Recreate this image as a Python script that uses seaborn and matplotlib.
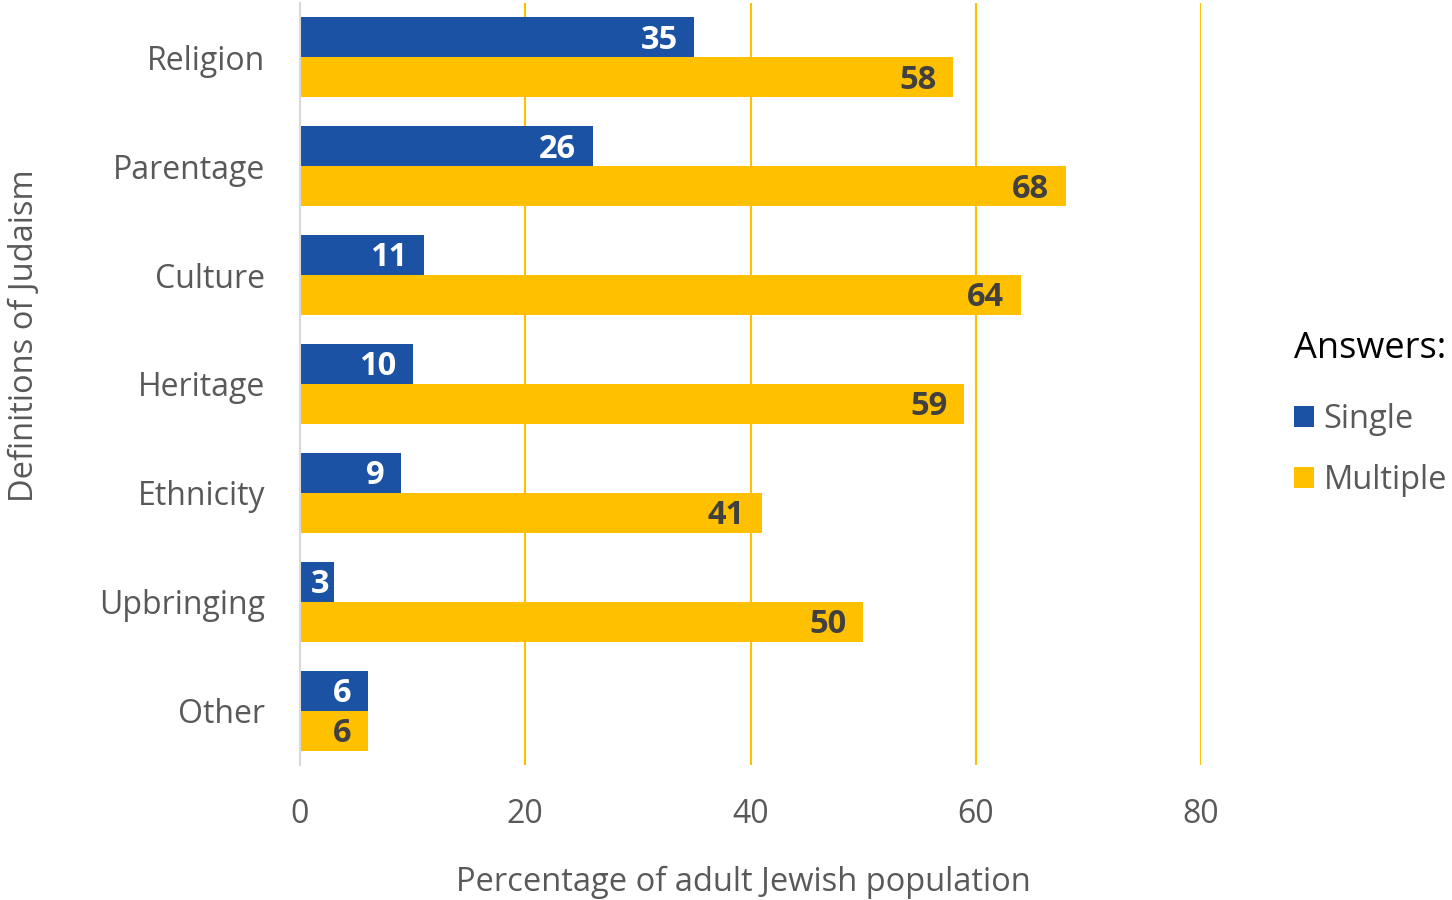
import matplotlib
matplotlib.use("Agg")
import matplotlib.pyplot as plt
import seaborn as sns
import pandas as pd

categories = ["Religion", "Parentage", "Culture", "Heritage", "Ethnicity", "Upbringing", "Other"]
single = [35, 26, 11, 10, 9, 3, 6]
multiple = [58, 68, 64, 59, 41, 50, 6]
series_names = ["Single", "Multiple"]
x_ticks = [0, 20, 40, 60, 80]

df = pd.DataFrame({
    "Definition": categories * 2,
    "Percent": single + multiple,
    "Answer": [series_names[0]] * len(categories) + [series_names[1]] * len(categories),
})

sns.set_theme(style="white")
plt.rcParams["font.family"] = ["Open Sans", "DejaVu Sans"]

BLUE = "#1C52A3"
GOLD = "#FFC000"
GRAY = "#595959"

fig = plt.figure(figsize=(14.52, 9.0), dpi=100)
ax = fig.add_axes([300 / 1452, 1 - 765 / 900, (1201 - 300) / 1452, (765 - 3) / 900])

sns.barplot(data=df, x="Percent", y="Definition", hue="Answer", orient="h",
            palette=[BLUE, GOLD], width=0.734, gap=0, saturation=1, linewidth=0,
            order=categories, hue_order=series_names, ax=ax, zorder=3)

ax.set_xlim(0, 80)
ax.set_ylim(6.5, -0.5)
ax.set_xticks(x_ticks)
ax.xaxis.grid(True, color=GOLD, linewidth=1.5, zorder=0)
ax.yaxis.grid(False)
ax.set_axisbelow(True)
for side in ["top", "right", "bottom"]:
    ax.spines[side].set_visible(False)
ax.spines["left"].set_color("#D9D9D9")
ax.spines["left"].set_linewidth(1.5)
ax.spines["left"].set_zorder(5)

ax.tick_params(axis="x", length=0, pad=24, labelsize=23, labelcolor=GRAY)
ax.tick_params(axis="y", length=0, pad=25, labelsize=23, labelcolor=GRAY)

ax.set_xlabel("Percentage of adult Jewish population", fontsize=23.5, color=GRAY)
ax.set_ylabel("Definitions of Judaism", fontsize=23.5, color=GRAY)
ax.xaxis.set_label_coords(0.4917, -0.1325)
ax.yaxis.set_label_coords(-0.288, 0.563)

# value labels inside the bar ends; short bars keep the label clear of the axis
fig.canvas.draw()
renderer = fig.canvas.get_renderer()
px_per_unit = ax.transData.transform((1, 0))[0] - ax.transData.transform((0, 0))[0]
label_colors = ["white", "#404040"]
for container, col in zip(ax.containers, label_colors):
    for bar, v in zip(container.patches, container.datavalues):
        yc = bar.get_y() + bar.get_height() / 2
        txt = ax.annotate(f"{v:.0f}", xy=(bar.get_width(), yc),
                          xytext=(-12, -2), textcoords="offset points", ha="right", va="center",
                          color=col, fontsize=23.5, fontweight="bold", zorder=6)
        w = txt.get_window_extent(renderer).width
        if bar.get_width() * px_per_unit - 16.5 - w < 10:
            txt.set_ha("left")
            txt.xy = (0, yc)
            txt.set_position((8, -2))

leg = ax.legend(title="Answers:", loc="upper left", bbox_to_anchor=(1281 / 1452, 1 - 318 / 900),
                bbox_transform=fig.transFigure,
                frameon=False, fontsize=23.5, title_fontsize=26,
                handlelength=0.62, handleheight=0.62, handletextpad=0.28,
                labelspacing=0.84, alignment="left", borderaxespad=0)
for t in leg.get_texts():
    t.set_color(GRAY)
leg.get_title().set_color("black")
leg._legend_box.sep = 26

fig.savefig("out.png", dpi=100)
